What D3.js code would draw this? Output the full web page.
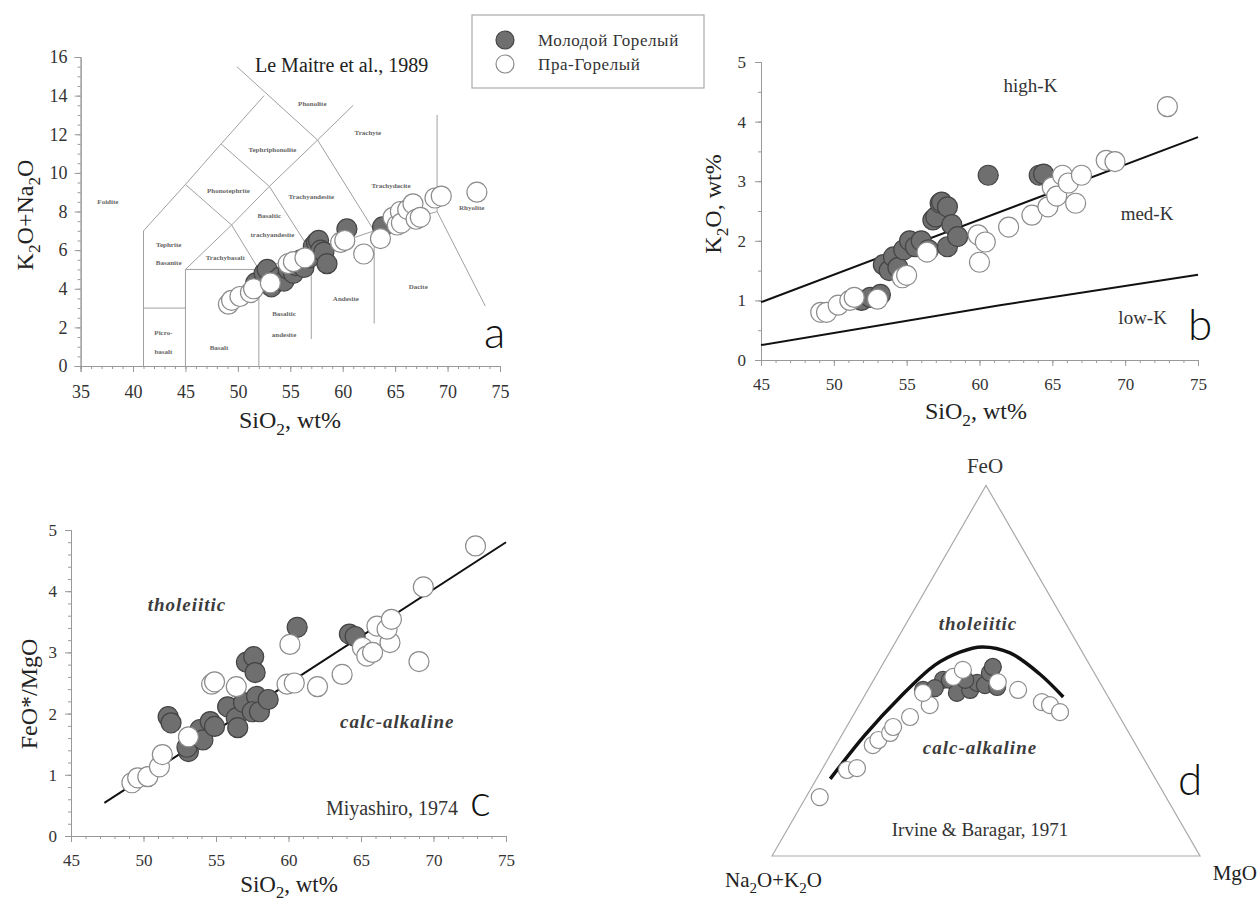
<!DOCTYPE html>
<html>
<head>
<meta charset="utf-8">
<script src="https://cdn.jsdelivr.net/npm/d3@7"></script>
<style>
  body { margin: 0; background: #fff; }
  svg { display: block; }
  svg text { font-family: "Liberation Serif", "Times New Roman", serif; }
</style>
</head>
<body>
<script>
// ---- data -------------------------------------------------------------
// a: TAS, [SiO2, K2O+Na2O]
const tasMolodoy = [[51.7,4.3],[52.5,4.8],[52.8,5.0],[53.2,4.1],[53.5,4.4],[54.0,4.6],[54.4,4.4],
  [54.8,5.0],[55.3,4.8],[55.5,5.2],[56.0,5.5],[56.3,5.1],[56.8,5.6],[57.2,6.2],[57.5,6.4],
  [57.7,6.5],[57.9,6.0],[58.2,5.9],[58.5,5.3],[60.4,7.1],[63.8,7.2]];
const tasPra = [[49.1,3.2],[49.4,3.4],[50.2,3.6],[51.2,3.8],[51.5,4.0],[53.1,4.3],[54.8,5.3],
  [55.3,5.4],[56.4,5.6],[59.8,6.4],[60.2,6.5],[62.0,5.8],[63.6,6.6],[64.8,7.7],[65.2,7.3],
  [65.5,8.0],[65.6,7.4],[66.2,8.1],[66.7,8.4],[67.0,7.6],[67.4,7.7],[68.8,8.7],[69.4,8.8],[72.8,9.0]];

// TAS field boundaries (Le Maitre et al., 1989), as drawn
const tasLines = [
  [[41,0],[41,7],[45,9.4],[48.4,11.5],[52.5,14]],
  [[41,3],[45,3]],
  [[45,0],[45,5],[52,5],[52,0]],
  [[45,5],[49.4,7.3],[53,9.3],[57.6,11.7],[61,13.5]],
  [[49.4,7.3],[52,5],[57,5.9],[63,7],[69,8],[69,13]],
  [[45,9.4],[49.4,7.3]],
  [[48.4,11.5],[53,9.3],[57,5.9],[57,1.4]],
  [[57.6,11.7],[63,7],[63,2.2]],
  [[49.9,15.5],[57.6,11.7]],
  [[69,8],[73.6,3.1]]
];
const tasFields = [
  ["Foidite",37.6,8.5],["Phonolite",57.1,13.6],["Tephriphonolite",53.3,11.2],["Trachyte",62.4,12.1],
  ["Phonotephrite",49.1,9.1],["Trachyandesite",57.0,8.8],["Trachydacite",64.6,9.35],
  ["Basaltic",53.0,7.8],["trachyandesite",53.3,6.8],["Rhyolite",72.3,8.2],
  ["Tephrite",43.4,6.3],["Basanite",43.4,5.35],["Trachybasalt",48.8,5.6],
  ["Picro-",42.9,1.75],["basalt",42.9,0.75],["Basalt",48.2,0.95],
  ["Basaltic",54.4,2.7],["andesite",54.4,1.65],["Andesite",60.3,3.5],["Dacite",67.2,4.1]
];

// b: [SiO2, K2O]
const kMolodoy = [[51.9,1.0],[52.5,1.05],[53.2,1.1],[53.4,1.6],[53.8,1.5],[54.1,1.73],[54.4,1.55],
  [54.8,1.85],[55.2,2.0],[55.6,1.9],[56.0,2.0],[56.5,1.85],[56.8,2.35],[57.0,2.4],[57.3,2.63],
  [57.4,2.65],[57.8,2.57],[57.8,1.9],[58.1,2.27],[58.5,2.07],[60.6,3.1],[64.1,3.1],[64.4,3.12]];
const kPra = [[49.1,0.8],[49.5,0.8],[50.3,0.92],[51.1,1.0],[51.4,1.05],[53.0,1.02],[54.7,1.38],
  [55.0,1.42],[56.4,1.81],[59.9,2.1],[60.4,1.98],[60.0,1.64],[62.0,2.23],[63.6,2.43],[64.7,2.57],
  [65.0,2.9],[65.3,2.75],[65.7,3.1],[66.1,2.97],[66.6,2.63],[67.0,3.1],[68.7,3.35],[69.3,3.33],[72.9,4.25]];
const kHighLine = [[45,0.97],[75,3.74]];
const kLowLine = [[45,0.25],[61.4,0.92],[75,1.43]];

// c: [SiO2, FeO*/MgO]
const fmMolodoy = [[51.7,1.95],[51.9,1.85],[53.1,1.38],[53.0,1.45],[53.9,1.74],[54.1,1.57],[54.6,1.87],
  [54.9,1.79],[55.8,2.11],[56.4,1.93],[56.5,1.77],[56.9,2.18],[57.1,2.84],[57.6,2.93],[57.7,2.67],
  [57.8,2.28],[57.5,2.03],[58.0,2.03],[58.6,2.23],[60.6,3.41],[64.2,3.3],[64.6,3.26]];
const fmPra = [[49.2,0.87],[49.6,0.95],[50.3,0.97],[51.1,1.13],[51.3,1.33],[53.1,1.62],[54.7,2.48],
  [54.9,2.52],[56.4,2.44],[59.9,2.48],[60.4,2.5],[60.1,3.13],[62.0,2.44],[63.7,2.64],[65.1,3.08],
  [65.4,2.94],[66.1,3.43],[65.8,3.0],[67.0,3.16],[66.8,3.38],[67.1,3.54],[69.0,2.85],[69.3,4.07],[72.9,4.74]];
const miyashiroLine = [[47.3,0.54],[75,4.8]];

// d: AFM, [Na2O+K2O, FeO, MgO]
const afmMolodoy = [[42.3,44.8,12.9],[36.3,47.5,16.2],[34.7,47.5,17.8],[34.8,44.0,21.2],[31.3,44.8,23.9],
  [28.7,46.7,24.6],[27.2,46.1,26.7],[24.4,49.4,26.2],[22.9,51.0,26.1],[24.6,45.6,29.8],
  [31.1,47.5,21.4],[39.3,45.3,15.4]];
const afmPra = [[80.9,15.9,3.2],[70.9,23.2,5.9],[68.3,23.7,8.0],[61.5,29.9,8.6],[59.5,31.3,9.2],
  [55.8,33.2,11.0],[54.3,34.8,10.9],[49.0,37.5,13.5],[42.8,40.7,16.5],[42.7,44.0,13.3],
  [33.5,48.3,18.2],[30.3,50.2,19.5],[23.8,46.9,29.3],[20.1,44.8,35.1],[16.2,41.5,42.3],
  [14.7,40.7,44.6],[13.3,38.8,47.9]];
const irvineCurve = [[76.0,20.8,3.2],[62.0,32.6,5.4],[48.6,42.9,8.5],[36.2,51.5,12.3],[28.6,55.0,16.4],
  [22.7,56.4,20.9],[17.0,54.8,28.2],[12.9,49.1,38.0],[10.5,42.9,46.6]];

const seriesNames = ["Молодой Горелый", "Пра-Горелый"];

// ---- drawing ------------------------------------------------------------
const W = 1258, H = 906;
const DARK = { fill: "#6f6f6f", stroke: "#444" };
const OPEN = { fill: "#fff", stroke: "#8c8c8c" };

const svg = d3.select("body").append("svg")
    .attr("width", W).attr("height", H);

// text with subscripts: parts = [["K"],["2",true],["O+Na"],...]
function richText(g, parts, size) {
  const t = g.append("text").attr("font-size", size);
  let shifted = false;
  parts.forEach(([s, sub]) => {
    const ts = t.append("tspan").text(s);
    if (sub) { ts.attr("font-size", size * 0.72).attr("dy", size * 0.28); shifted = true; }
    else if (shifted) { ts.attr("dy", -size * 0.28); shifted = false; }
  });
  return t;
}

function axes(x, y, o) {
  const y0 = y.range()[0], x0 = x.range()[0];
  const style = g => {
    g.attr("font-family", null).attr("font-size", o.font);
    g.select(".domain").attr("stroke", "#999");
    g.selectAll(".tick line").attr("stroke", "#999");
    g.selectAll(".tick text").attr("fill", "#333");
  };
  const fmt = d3.format("~g");
  svg.append("g").attr("transform", `translate(0,${y0})`)
      .call(d3.axisBottom(x).tickValues(d3.range(x.domain()[0], x.domain()[1] + 0.01, 1))
        .tickSize(3).tickFormat("")).call(style);
  svg.append("g").attr("transform", `translate(0,${y0})`)
      .call(d3.axisBottom(x).tickValues(o.xTicks).tickFormat(fmt).tickSize(6).tickPadding(o.xPad)).call(style);
  svg.append("g").attr("transform", `translate(${x0},0)`)
      .call(d3.axisLeft(y).tickValues(d3.range(y.domain()[0], y.domain()[1] + 0.001, o.yMinor))
        .tickSize(3).tickFormat("")).call(style);
  svg.append("g").attr("transform", `translate(${x0},0)`)
      .call(d3.axisLeft(y).tickValues(o.yTicks).tickFormat(fmt).tickSize(6).tickPadding(o.yPad)).call(style);
}

function dots(data, px, py, r, st) {
  svg.append("g").selectAll("circle").data(data).join("circle")
      .attr("cx", px).attr("cy", py).attr("r", r)
      .attr("fill", st.fill).attr("stroke", st.stroke).attr("stroke-width", 1.2);
}

function panelLetter(s, x, y) {
  svg.append("text").attr("x", x).attr("y", y).text(s)
      .style("font-family", "Lato, 'DejaVu Sans', sans-serif").attr("font-weight", 300)
      .attr("font-size", 44).attr("fill", "#111");
}

function label(s, x, y, size, extra) {
  const t = svg.append("text").attr("x", x).attr("y", y).text(s)
      .attr("font-size", size).attr("fill", "#333").attr("text-anchor", "middle");
  if (extra) extra(t);
  return t;
}
const italic = t => t.attr("font-style", "italic").attr("font-weight", "bold")
    .attr("letter-spacing", 1).attr("fill", "#3c3c3c");

// ---- panel a: TAS ----
{
  const x = d3.scaleLinear([35, 75], [80.6, 500]);
  const y = d3.scaleLinear([0, 16], [366, 57]);
  const line = d3.line().x(d => x(d[0])).y(d => y(d[1]));
  svg.append("g").selectAll("path").data(tasLines).join("path")
      .attr("d", line).attr("fill", "none").attr("stroke", "#a0a0a0").attr("stroke-width", 1);
  svg.append("g").selectAll("text").data(tasFields).join("text")
      .attr("x", d => x(d[1])).attr("y", d => y(d[2]) + 2.5).text(d => d[0])
      .attr("text-anchor", "middle").attr("font-size", 7).attr("font-weight", "bold").attr("fill", "#666");
  axes(x, y, { xTicks: d3.range(35, 76, 5), yTicks: d3.range(0, 17, 2), yMinor: 0.5,
    font: 18, xPad: 13, yPad: 7 });
  dots(tasMolodoy, d => x(d[0]), d => y(d[1]), 10, DARK);
  dots(tasPra, d => x(d[0]), d => y(d[1]), 10, OPEN);
  svg.append("text").attr("x", 255).attr("y", 72).text("Le Maitre et al., 1989")
      .attr("font-size", 20).attr("fill", "#222");
  richText(svg, [["SiO"], ["2", true], [", wt%"]], 24)
      .attr("x", 290).attr("y", 428).attr("text-anchor", "middle").attr("fill", "#222");
  const g = svg.append("g").attr("transform", "translate(33,215) rotate(-90)");
  richText(g, [["K"], ["2", true], ["O+Na"], ["2", true], ["O"]], 24)
      .attr("text-anchor", "middle").attr("fill", "#222");
  panelLetter("a", 484, 348);
}

// ---- legend ----
{
  const g = svg.append("g");
  g.append("rect").attr("x", 472).attr("y", 15).attr("width", 232).attr("height", 73)
      .attr("fill", "#fff").attr("stroke", "#aaa").attr("stroke-width", 1.2);
  [DARK, OPEN].forEach((st, i) => {
    g.append("circle").attr("cx", 505).attr("cy", 40 + i * 24).attr("r", 9)
        .attr("fill", st.fill).attr("stroke", st.stroke).attr("stroke-width", 1.2);
    g.append("text").attr("x", 538).attr("y", 46 + i * 24).text(seriesNames[i])
        .attr("font-size", 17).attr("fill", "#333").attr("letter-spacing", 0.6);
  });
}

// ---- panel b: K2O vs SiO2 ----
{
  const x = d3.scaleLinear([45, 75], [761, 1198]);
  const y = d3.scaleLinear([0, 5], [360, 62]);
  axes(x, y, { xTicks: d3.range(45, 76, 5), yTicks: d3.range(0, 6, 1), yMinor: 0.5,
    font: 17, xPad: 12, yPad: 9 });
  const line = d3.line().x(d => x(d[0])).y(d => y(d[1]));
  [kHighLine, kLowLine].forEach(l => svg.append("path").attr("d", line(l))
      .attr("fill", "none").attr("stroke", "#111").attr("stroke-width", 2));
  dots(kMolodoy, d => x(d[0]), d => y(d[1]), 10, DARK);
  dots(kPra, d => x(d[0]), d => y(d[1]), 10, OPEN);
  label("high-K", x(63.5), y(4.5), 19);
  label("med-K", x(71.5), y(2.35), 19);
  label("low-K", x(71.2), y(0.6), 19);
  richText(svg, [["SiO"], ["2", true], [", wt%"]], 24)
      .attr("x", 976).attr("y", 419).attr("text-anchor", "middle").attr("fill", "#222");
  const g = svg.append("g").attr("transform", "translate(721,204) rotate(-90)");
  richText(g, [["K"], ["2", true], ["O, wt%"]], 24).attr("text-anchor", "middle").attr("fill", "#222");
  panelLetter("b", 1188, 340);
}

// ---- panel c: FeO*/MgO vs SiO2 ----
{
  const x = d3.scaleLinear([45, 75], [71, 506]);
  const y = d3.scaleLinear([0, 5], [836, 530]);
  axes(x, y, { xTicks: d3.range(45, 76, 5), yTicks: d3.range(0, 6, 1), yMinor: 0.2,
    font: 17, xPad: 12, yPad: 8 });
  const line = d3.line().x(d => x(d[0])).y(d => y(d[1]));
  svg.append("path").attr("d", line(miyashiroLine))
      .attr("fill", "none").attr("stroke", "#111").attr("stroke-width", 2);
  dots(fmMolodoy, d => x(d[0]), d => y(d[1]), 10, DARK);
  dots(fmPra, d => x(d[0]), d => y(d[1]), 10, OPEN);
  label("tholeiitic", x(53), y(3.68), 19, italic);
  label("calc-alkaline", x(67.5), y(1.76), 19, italic);
  label("Miyashiro, 1974", 392, 815, 20);
  richText(svg, [["SiO"], ["2", true], [", wt%"]], 23)
      .attr("x", 289).attr("y", 892).attr("text-anchor", "middle").attr("fill", "#222");
  const g = svg.append("g").attr("transform", "translate(37,694) rotate(-90)");
  richText(g, [["FeO*/MgO"]], 24).attr("text-anchor", "middle").attr("fill", "#222");
  panelLetter("c", 470, 816);
}

// ---- panel d: AFM ternary ----
{
  const tx = d3.scaleLinear([0, 1], [772, 1200]);
  const ty = d3.scaleLinear([0, 1], [856, 856 - 428 * Math.sqrt(3) / 2]);
  const px = d => tx((d[2] + d[1] / 2) / (d[0] + d[1] + d[2]));
  const py = d => ty(d[1] / (d[0] + d[1] + d[2]));
  const corners = [[100, 0, 0], [0, 100, 0], [0, 0, 100]];
  svg.append("path").attr("d", d3.line().x(px).y(py)(corners) + "Z")
      .attr("fill", "none").attr("stroke", "#aaa").attr("stroke-width", 1.2);
  svg.append("path").attr("d", d3.line().x(px).y(py).curve(d3.curveCatmullRom)(irvineCurve))
      .attr("fill", "none").attr("stroke", "#111").attr("stroke-width", 3.5);
  dots(afmMolodoy, px, py, 8.5, DARK);
  dots(afmPra, px, py, 8.5, OPEN);
  label("tholeiitic", 978, 630, 19, italic);
  label("calc-alkaline", 980, 754, 19, italic);
  label("Irvine & Baragar, 1971", 980, 836, 19);
  label("FeO", 985, 473, 21);
  richText(svg, [["Na"], ["2", true], ["O+K"], ["2", true], ["O"]], 21)
      .attr("x", 822).attr("y", 887).attr("text-anchor", "end").attr("fill", "#222");
  svg.append("text").attr("x", 1257).attr("y", 880).attr("text-anchor", "end").text("MgO")
      .attr("font-size", 21).attr("fill", "#222");
  panelLetter("d", 1178, 795);
}
</script>
</body>
</html>
